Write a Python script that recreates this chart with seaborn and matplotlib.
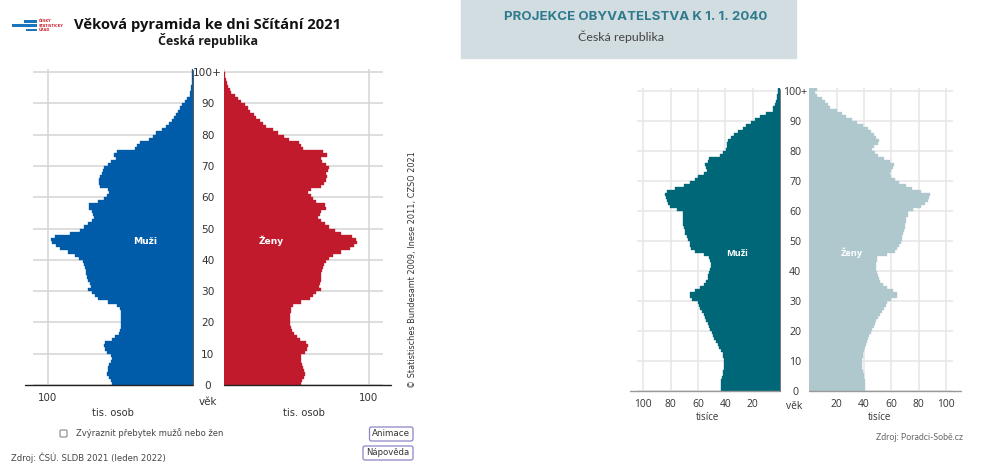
# age pyramids: census 2021 vs projection 2040, Czech Republic
import matplotlib
matplotlib.use("Agg")
import matplotlib.pyplot as plt
from matplotlib.patches import Rectangle, FancyBboxPatch
import seaborn as sns

sns.set_style("white")
plt.rcParams['font.family'] = ['DejaVu Sans']

# --- data, age 0 to 100+, thousands of people ---
ages = list(range(101))
male_2021 = [55.8, 56, 57.6, 58.8, 58.5, 58, 57.6, 56, 55.8, 56,
             59, 60.4, 61, 60.4, 55.8, 53.5, 51, 50, 49.3, 49,
             49, 49, 49, 49.3, 50, 52, 58, 65, 67, 69,
             72, 70, 71, 72, 72.6, 73.3, 73.7, 74, 75, 75.8,
             78, 81, 85.7, 91.5, 93.8, 96.8, 97.7, 95, 84.6, 77.6,
             75, 72, 69.6, 67.7, 68.5, 69, 71.7, 71.7, 65, 61,
             59, 57.6, 58, 64, 64.5, 64.5, 64, 62.7, 62, 61,
             58, 56, 53, 54, 52, 40, 38, 36, 30, 27,
             25, 21, 18, 16, 14, 13, 11.5, 10, 8.5, 7,
             5.5, 3.7, 2, 1.4, 1, 0.7, 0.5, 0.4, 0.3, 0.3, 0.3]
female_2021 = [53.7, 54, 55.3, 56, 55.5, 54.8, 54.4, 53.7, 53.2, 53.7,
               56, 57.6, 58.3, 57, 52.5, 51, 48.6, 47.5, 46.3, 45.9,
               45.6, 45.6, 45.9, 46.3, 46.8, 48, 53.7, 59.4, 61.7, 64,
               67.4, 65.8, 66.7, 67, 67, 67.4, 68, 68.6, 69.3, 70.4,
               72.5, 75.5, 81, 87, 89.7, 92, 91.5, 88.8, 81, 76.6,
               73, 69.7, 67.4, 65, 66.3, 67.4, 70.9, 69.7, 63.5, 61.7,
               60, 58.3, 60.5, 67.4, 69.3, 70.4, 71.6, 71, 72, 72.5,
               70.9, 68, 67.4, 71.3, 68.6, 55, 53.7, 52, 45, 42,
               37.6, 34, 29.6, 27, 25, 22.7, 21, 18.6, 17, 14.7,
               12.4, 10, 7.8, 5.5, 4.3, 3.2, 2.5, 1.8, 1.2, 0.8, 0.4]
male_2040 = [43.4, 43.4, 43, 43, 42.7, 42, 41.5, 41, 41, 41,
             41.2, 41.5, 42, 43, 44.4, 45.6, 46.8, 48, 49, 50,
             51, 52, 53, 54, 55, 56, 57, 58.5, 59, 60,
             64.6, 66, 66, 62, 58.5, 56, 54, 53, 52.4, 52,
             51, 50.7, 50.7, 51, 52, 56, 62, 65, 66, 66,
             67, 68, 69.5, 69.5, 70, 70.7, 70.7, 70.7, 70.7, 70.7,
             75.6, 80.5, 82, 83, 83.7, 84, 83, 77, 70, 66,
             62, 60, 56, 53.7, 54, 55, 53, 52, 44, 41.5,
             39.5, 38.5, 38.5, 38, 36, 34, 31, 27, 25, 21,
             18, 15, 10, 5.4, 4.9, 3.7, 3, 2.4, 2, 1.7, 1.5]
female_2040 = [41, 41, 41, 40.7, 40.2, 39.8, 39.3, 38.8, 38.5, 38.5,
               38.8, 39, 39.5, 40, 40.7, 41.2, 42, 43, 44, 45,
               45.9, 47, 48.3, 49, 50.5, 51.7, 53, 54.6, 56, 57,
               60, 64, 64, 61.5, 56.6, 54, 51.7, 50.7, 50, 49.3,
               48.8, 48.5, 48.8, 49.3, 49.8, 56.6, 62.7, 64, 66, 67,
               67.6, 68, 68.8, 69.5, 70, 70, 70.7, 71, 72, 72.4,
               76, 82, 85, 87, 87.8, 88, 82, 75, 71, 66,
               62.7, 60, 59, 60, 61.5, 62, 59, 55, 50.5, 48,
               45.6, 47, 50.5, 51, 49, 47, 45, 43, 39.5, 35,
               31, 27, 23.7, 20, 15, 13.4, 11.5, 9, 5.4, 4, 5.4]
age_ticks = list(range(0, 101, 10))
age_labels = [str(a) for a in age_ticks[:-1]] + ['100+']
ticks_2021 = [100]
ticks_2040 = [20, 40, 60, 80, 100]

W, H = 990, 465
fig = plt.figure(figsize=(W / 100, H / 100), dpi=100)


def px_axes(left, top, right, bottom):
    return fig.add_axes([left / W, 1 - bottom / H, (right - left) / W, (bottom - top) / H])


def pyramid_side(box, values, color, xmax, xticks, grid_color, mirrored, text_color, font):
    ax = px_axes(*box)
    ax.patch.set_alpha(0)
    ax.grid(True, color=grid_color, linewidth=1.1)
    ax.set_axisbelow(True)
    sns.barplot(x=values, y=ages, orient='y', native_scale=True, color=color,
                saturation=1, width=1, edgecolor=color, linewidth=0.25, ax=ax)
    ax.set_xlim(xmax, 0) if mirrored else ax.set_xlim(0, xmax)
    ax.set_ylim(-0.5, 100.5)
    ax.set_xticks(xticks)
    ax.set_yticks([a - 0.5 for a in age_ticks])
    ax.set_xlabel('')
    ax.set_ylabel('')
    sns.despine(ax=ax, left=True, right=True, top=True, bottom=True)
    ax.tick_params(axis='both', length=0, colors=text_color)
    ax.tick_params(axis='x', labelsize=7.4, pad=5.5)
    for lab in ax.get_xticklabels():
        lab.set_family(font)
    if mirrored:
        ax.set_yticks([a - 0.5 for a in age_ticks], age_labels, family=font, fontsize=7.6, ha='center')
        ax.yaxis.tick_right()
        ax.tick_params(axis='y', length=0, pad=11, colors=text_color)
    else:
        ax.set_yticklabels([])
    return ax


# --- 1. census 2021 ---
pyramid_side((33, 68.9, 192.5, 385), male_2021, '#005ca8', 110, ticks_2021, '#d4d4d4', True, '#333333', 'DejaVu Sans')
pyramid_side((223.5, 68.9, 383, 385), female_2021, '#c01a2c', 110, ticks_2021, '#d4d4d4', False, '#333333', 'DejaVu Sans')

# --- 2. projection 2040 ---
pyramid_side((637, 88, 780, 391), male_2040, '#006778', 104.7, ticks_2040, '#e6e6e6', True, '#333333', 'Open Sans')
pyramid_side((809.3, 88, 953, 391), female_2040, '#aec8ce', 105.2, ticks_2040, '#e6e6e6', False, '#333333', 'Open Sans')

# --- 3. page furniture, drawn in pixel coordinates ---
page = fig.add_axes([0, 0, 1, 1], zorder=5)
page.set_xlim(0, W)
page.set_ylim(H, 0)
page.axis('off')

page.add_patch(Rectangle((461, 0), 335, 58, color='#d2dde2', zorder=0))
for x0, x1, y, lw in [(25, 192.5, 385, 1.0), (223.5, 391, 385, 1.0)]:
    page.plot([x0, x1], [y, y], color='#222222', lw=lw)
for x0, x1 in [(630, 780), (809.3, 961)]:
    page.plot([x0, x1], [391, 391], color='#999999', lw=1.0)
page.plot([192.5, 192.5], [70, 385], color='#555555', lw=0.7)
page.plot([780, 780], [89, 391], color='#777777', lw=0.7)

# logo
for x0, x1, y in [(24, 37, 21.5), (12, 37, 25.7), (26, 37, 30)]:
    page.add_patch(Rectangle((x0, y - 1.4), x1 - x0, 2.8, color='#1b75bc', lw=0))
for y, s in [(21.5, 'ČESKÝ'), (25.8, 'STATISTICKÝ'), (30.2, 'ÚŘAD')]:
    page.text(38.5, y, s, fontsize=2.5, color='#d0202e', fontweight='bold', va='center')

dark = '#1a1a1a'
page.text(208, 24.5, 'Věková pyramida ke dni Sčítání 2021', family='Open Sans', fontweight='bold',
          fontsize=10.6, color='#111111', ha='center', va='center')
page.text(208, 41, 'Česká republika', family='Open Sans', fontweight='bold', fontsize=9, color=dark,
          ha='center', va='center')
page.text(635.5, 16.5, 'PROJEKCE OBYVATELSTVA K 1. 1. 2040', family='Inter', fontweight='bold', fontsize=9.6,
          color='#2f7a8c', ha='center', va='center')
page.text(621, 37, 'Česká republika', family='Lato', fontsize=8.9, color='#444444', ha='center', va='center')

page.text(145, 241, 'Muži', fontsize=6.6, fontweight='bold', color='white', ha='center', va='center')
page.text(271, 241, 'Ženy', fontsize=6.6, fontweight='bold', color='white', ha='center', va='center')
page.text(737, 253, 'Muži', family='Open Sans', fontsize=6.6, fontweight='bold', color='white', ha='center', va='center')
page.text(852, 253, 'Ženy', family='Open Sans', fontsize=6.6, fontweight='bold', color='white', ha='center', va='center')

page.text(208, 401.5, 'věk', fontsize=7.4, color='#333333', ha='center', va='center')
page.text(113, 412.5, 'tis. osob', fontsize=7.2, color='#333333', ha='center', va='center')
page.text(304, 412.5, 'tis. osob', fontsize=7.2, color='#333333', ha='center', va='center')
page.text(794, 406, 'věk', family='Open Sans', fontsize=7.4, color='#333333', ha='center', va='center')
page.text(708, 417.5, 'tisíce', family='Open Sans', fontsize=7, color='#333333', ha='center', va='center')
page.text(880, 417.5, 'tisíce', family='Open Sans', fontsize=7, color='#333333', ha='center', va='center')
page.text(963, 437.5, 'Zdroj: Poradci-Sobě.cz', family='Lato', fontsize=6.3, color='#666666', ha='right', va='center')

page.text(412, 388, '© Statistisches Bundesamt 2009, Inese 2011, CZSO 2021', rotation=90, fontsize=5.9,
          color='#333333', ha='center', va='bottom')

page.add_patch(FancyBboxPatch((60, 430), 7, 7, boxstyle='round,pad=0,rounding_size=1.2', fc='white', ec='#777777', lw=0.7))
page.text(75.5, 433, 'Zvýraznit přebytek mužů nebo žen', fontsize=6, color='#444444', va='center')
for x0, x1, y0, y1, fs, s in [(369.5, 413, 427, 441, 6.3, 'Animace'), (363, 413, 446, 460, 6.1, 'Nápověda')]:
    page.add_patch(FancyBboxPatch((x0, y0), x1 - x0, y1 - y0, boxstyle='round,pad=0,rounding_size=2',
                                  fc='white', ec='#8a84c8', lw=0.9))
    page.text((x0 + x1) / 2, (y0 + y1) / 2 - 0.5, s, fontsize=fs, color='#333333', ha='center', va='center')
page.text(11, 458, 'Zdroj: ČSÚ. SLDB 2021 (leden 2022)', fontsize=6.1, color='#444444', va='center')

fig.savefig('out.png', dpi=100)
